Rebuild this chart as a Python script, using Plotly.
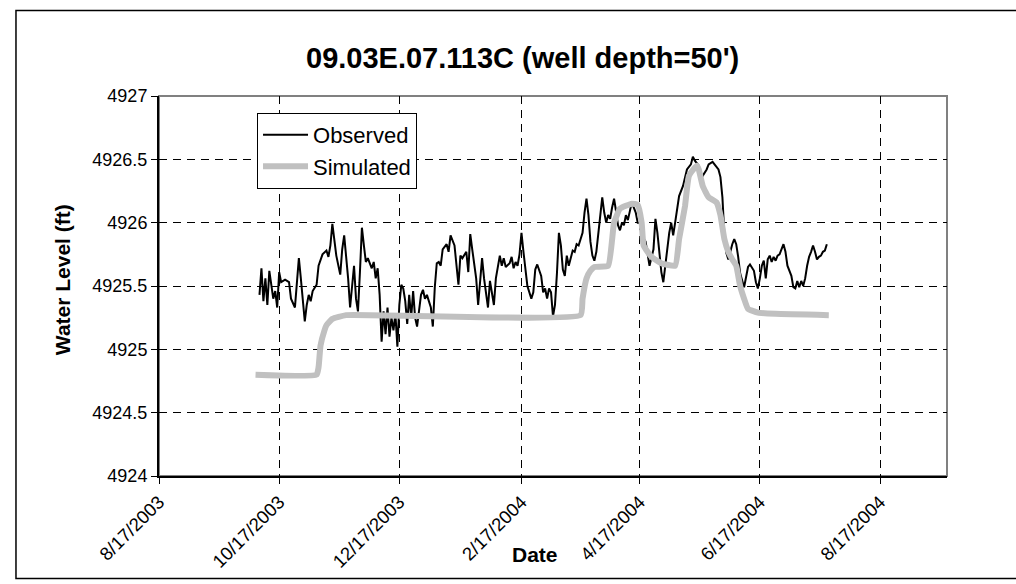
import plotly.graph_objects as go

# ---------------- data ----------------
obs_dates = [
    "2003-10-07","2003-10-08","2003-10-09","2003-10-10","2003-10-11","2003-10-12","2003-10-14","2003-10-15",
    "2003-10-16","2003-10-17","2003-10-18","2003-10-20","2003-10-22","2003-10-23","2003-10-25","2003-10-27",
    "2003-10-28","2003-10-29","2003-10-30","2003-10-31","2003-11-01","2003-11-02","2003-11-03","2003-11-05",
    "2003-11-06","2003-11-08","2003-11-10","2003-11-11","2003-11-12","2003-11-13","2003-11-14","2003-11-15",
    "2003-11-17","2003-11-18","2003-11-19","2003-11-20","2003-11-21","2003-11-22","2003-11-23","2003-11-24",
    "2003-11-25","2003-11-26","2003-11-27","2003-11-28","2003-11-29","2003-11-30","2003-12-01","2003-12-03",
    "2003-12-04","2003-12-05","2003-12-06","2003-12-07","2003-12-08","2003-12-09","2003-12-10","2003-12-11",
    "2003-12-12","2003-12-13","2003-12-14","2003-12-15","2003-12-16","2003-12-17","2003-12-18","2003-12-19",
    "2003-12-20","2003-12-21","2003-12-22","2003-12-23","2003-12-24","2003-12-25","2003-12-26","2003-12-27",
    "2003-12-28","2003-12-29","2003-12-30","2003-12-31","2004-01-01","2004-01-02","2004-01-03","2004-01-04",
    "2004-01-05","2004-01-06","2004-01-07","2004-01-08","2004-01-10","2004-01-11","2004-01-12","2004-01-14",
    "2004-01-16","2004-01-17","2004-01-18","2004-01-20","2004-01-21","2004-01-22","2004-01-23","2004-01-24",
    "2004-01-25","2004-01-26","2004-01-27","2004-01-28","2004-01-29","2004-01-30","2004-01-31","2004-02-01",
    "2004-02-02","2004-02-03","2004-02-04","2004-02-06","2004-02-07","2004-02-08","2004-02-09","2004-02-11",
    "2004-02-12","2004-02-13","2004-02-14","2004-02-15","2004-02-16","2004-02-17","2004-02-18","2004-02-20",
    "2004-02-22","2004-02-23","2004-02-24","2004-02-25","2004-02-27","2004-02-28","2004-02-29","2004-03-01",
    "2004-03-02","2004-03-03","2004-03-04","2004-03-05","2004-03-06","2004-03-07","2004-03-08","2004-03-09",
    "2004-03-10","2004-03-11","2004-03-12","2004-03-14","2004-03-15","2004-03-16","2004-03-17","2004-03-19",
    "2004-03-20","2004-03-21","2004-03-22","2004-03-23","2004-03-24","2004-03-25","2004-03-26","2004-03-28",
    "2004-03-29","2004-03-30","2004-03-31","2004-04-01","2004-04-02","2004-04-03","2004-04-04","2004-04-05",
    "2004-04-06","2004-04-07","2004-04-08","2004-04-09","2004-04-10","2004-04-11","2004-04-12","2004-04-13",
    "2004-04-15","2004-04-16","2004-04-17","2004-04-18","2004-04-20","2004-04-21","2004-04-22","2004-04-24",
    "2004-04-25","2004-04-26","2004-04-27","2004-04-28","2004-04-29","2004-04-30","2004-05-01","2004-05-02",
    "2004-05-03","2004-05-04","2004-05-05","2004-05-06","2004-05-07","2004-05-09","2004-05-10","2004-05-11",
    "2004-05-13","2004-05-14","2004-05-15","2004-05-17","2004-05-18","2004-05-19","2004-05-21","2004-05-22",
    "2004-05-24","2004-05-25","2004-05-27","2004-05-28","2004-05-29","2004-05-30","2004-05-31","2004-06-01",
    "2004-06-02","2004-06-03","2004-06-04","2004-06-05","2004-06-06","2004-06-07","2004-06-09","2004-06-10",
    "2004-06-11","2004-06-12","2004-06-14","2004-06-15","2004-06-16","2004-06-17","2004-06-18","2004-06-19",
    "2004-06-20","2004-06-21","2004-06-22","2004-06-23","2004-06-24","2004-06-25","2004-06-26","2004-06-27",
    "2004-06-28","2004-06-29","2004-06-30","2004-07-01","2004-07-03","2004-07-04","2004-07-05","2004-07-06",
    "2004-07-07","2004-07-08","2004-07-09","2004-07-10","2004-07-11","2004-07-12","2004-07-13","2004-07-14",
    "2004-07-15","2004-07-16","2004-07-17","2004-07-18","2004-07-19","2004-07-20","2004-07-21",
]
obs_values = [
    4925.43,4925.64,4925.38,4925.56,4925.35,4925.62,4925.40,4925.46,
    4925.33,4925.61,4925.53,4925.55,4925.53,4925.40,4925.33,4925.72,
    4925.56,4925.38,4925.22,4925.35,4925.43,4925.38,4925.46,4925.51,
    4925.66,4925.75,4925.78,4925.73,4925.82,4925.99,4925.84,4925.74,
    4925.59,4925.79,4925.90,4925.74,4925.56,4925.33,4925.51,4925.66,
    4925.40,4925.30,4925.61,4925.96,4925.82,4925.69,4925.72,4925.64,
    4925.69,4925.56,4925.64,4925.43,4925.06,4925.30,4925.12,4925.33,
    4925.10,4925.25,4925.15,4925.28,4925.02,4925.35,4925.51,4925.48,
    4925.38,4925.20,4925.43,4925.25,4925.46,4925.25,4925.18,4925.33,
    4925.43,4925.47,4925.40,4925.43,4925.38,4925.33,4925.18,4925.49,
    4925.68,4925.69,4925.66,4925.79,4925.83,4925.77,4925.90,4925.82,
    4925.51,4925.74,4925.72,4925.77,4925.61,4925.91,4925.79,4925.69,
    4925.56,4925.35,4925.51,4925.72,4925.56,4925.43,4925.33,4925.54,
    4925.46,4925.35,4925.56,4925.74,4925.66,4925.72,4925.65,4925.68,
    4925.73,4925.64,4925.69,4925.66,4925.75,4925.92,4925.77,4925.50,
    4925.40,4925.45,4925.63,4925.67,4925.58,4925.45,4925.48,4925.40,
    4925.48,4925.45,4925.26,4925.35,4925.60,4925.92,4925.82,4925.63,
    4925.58,4925.74,4925.66,4925.78,4925.77,4925.83,4925.82,4925.92,
    4926.08,4926.19,4926.06,4925.85,4925.74,4925.70,4925.77,4926.03,
    4926.20,4926.08,4926.00,4926.06,4926.03,4926.12,4926.19,4926.09,
    4925.98,4925.94,4926.00,4925.98,4926.06,4926.02,4926.09,4926.16,
    4926.08,4926.00,4926.00,4925.90,4925.85,4925.77,4925.66,4925.79,
    4926.03,4925.92,4925.74,4925.61,4925.53,4925.66,4925.82,4925.92,
    4926.00,4925.90,4926.00,4926.11,4926.21,4926.29,4926.37,4926.42,
    4926.46,4926.52,4926.49,4926.45,4926.38,4926.37,4926.42,4926.46,
    4926.48,4926.46,4926.42,4926.36,4926.20,4925.90,4925.76,4925.71,
    4925.78,4925.83,4925.87,4925.83,4925.73,4925.60,4925.49,4925.58,
    4925.65,4925.67,4925.62,4925.53,4925.48,4925.56,4925.66,4925.70,
    4925.56,4925.71,4925.74,4925.69,4925.73,4925.70,4925.74,4925.75,
    4925.79,4925.83,4925.77,4925.66,4925.58,4925.49,4925.48,4925.54,
    4925.49,4925.54,4925.50,4925.56,4925.66,4925.73,4925.77,4925.82,
    4925.77,4925.71,4925.73,4925.74,4925.77,4925.78,4925.83,
]

sim_dates = [
    "2003-10-05","2003-11-05","2003-11-06","2003-11-07","2003-11-09","2003-11-10","2003-11-13","2003-11-20",
    "2004-03-18","2004-03-19","2004-03-21","2004-03-23","2004-03-25","2004-04-01","2004-04-04","2004-04-07",
    "2004-04-13","2004-04-16","2004-04-18","2004-04-19","2004-04-23","2004-04-28","2004-05-05","2004-05-07",
    "2004-05-10","2004-05-12","2004-05-16","2004-05-17","2004-05-19","2004-05-22","2004-05-26","2004-05-28",
    "2004-05-30","2004-06-01","2004-06-03","2004-06-05","2004-06-07","2004-06-09","2004-06-11","2004-06-16",
    "2004-06-25","2004-07-22",
]
sim_values = [
    4924.80,4924.80,4924.86,4925.03,4925.15,4925.19,4925.24,4925.27,
    4925.27,4925.40,4925.56,4925.62,4925.65,4925.66,4926.00,4926.11,
    4926.15,4926.14,4926.00,4925.82,4925.73,4925.68,4925.66,4925.87,
    4926.13,4926.37,4926.45,4926.42,4926.29,4926.20,4926.16,4926.06,
    4925.87,4925.77,4925.71,4925.66,4925.50,4925.40,4925.32,4925.29,
    4925.28,4925.27,
]

x_tick_vals = ["2003-08-17","2003-10-17","2003-12-17","2004-02-17","2004-04-17","2004-06-17","2004-08-17"]
x_tick_text = ["8/17/2003","10/17/2003","12/17/2003","2/17/2004","4/17/2004","6/17/2004","8/17/2004"]
y_tick_vals = [4924, 4924.5, 4925, 4925.5, 4926, 4926.5, 4927]
y_tick_text = ["4924","4924.5","4925","4925.5","4926","4926.5","4927"]

title_text = "09.03E.07.113C (well depth=50')"
y_title = "Water Level (ft)"
x_title = "Date"

FONT = "Liberation Sans, Arial, sans-serif"

fig = go.Figure()
fig.add_trace(go.Scatter(x=obs_dates, y=obs_values, mode="lines", name="Observed",
                         line=dict(color="black", width=2)))
fig.add_trace(go.Scatter(x=sim_dates, y=sim_values, mode="lines", name="Simulated",
                         line=dict(color="#c0c0c0", width=6, shape="spline", smoothing=0.4)))

fig.update_layout(
    width=1016, height=584,
    margin=dict(l=159, r=69, t=96, b=106),
    paper_bgcolor="white", plot_bgcolor="white",
    font=dict(family=FONT, color="black", size=18),
    showlegend=True,
    legend=dict(x=0.1244, y=0.9555, xanchor="left", yanchor="top",
                bgcolor="white", bordercolor="black", borderwidth=1,
                font=dict(size=22, family=FONT), itemwidth=45, tracegroupgap=0),
    xaxis=dict(type="date", range=["2003-08-17", "2004-09-20"],
               tickvals=x_tick_vals, ticktext=x_tick_text, tickangle=-45,
               tickfont=dict(size=18.5, family=FONT),
               showgrid=True, gridcolor="black", gridwidth=1, griddash="8px,6px",
               showline=True, linecolor="black", linewidth=2,
               ticks="outside", ticklen=6, tickcolor="black", zeroline=False),
    yaxis=dict(range=[4924, 4927], tickvals=y_tick_vals, ticktext=y_tick_text,
               tickfont=dict(size=18, family=FONT),
               showgrid=True, gridcolor="black", gridwidth=1, griddash="8px,6px",
               showline=True, linecolor="black", linewidth=2,
               ticks="outside", ticklen=6, tickcolor="black", zeroline=False),
    shapes=[
        dict(type="rect", xref="paper", yref="paper", x0=0, x1=1, y0=0, y1=1,
             line=dict(color="#808080", width=2), layer="below"),
        dict(type="rect", xref="paper", yref="paper", x0=-0.1815, x1=1.0926, y0=-0.2696, y1=1.2251,
             line=dict(color="black", width=1.5), layer="below"),
    ],
    annotations=[
        dict(text="<b>" + title_text + "</b>", xref="paper", yref="paper", x=0.4607, y=1.0995,
             showarrow=False, font=dict(size=29, family=FONT), xanchor="center", yanchor="middle"),
        dict(text="<b>" + y_title + "</b>", xref="paper", yref="paper", x=-0.1231, y=0.518,
             showarrow=False, textangle=-90, font=dict(size=21, family=FONT),
             xanchor="center", yanchor="middle"),
        dict(text="<b>" + x_title + "</b>", xref="paper", yref="paper", x=0.4772, y=-0.2068,
             showarrow=False, font=dict(size=21, family=FONT), xanchor="center", yanchor="middle"),
    ],
)

fig.write_html("out.html", config={"displayModeBar": False},
               post_script="document.body.style.margin='0';document.body.style.padding='0';")
